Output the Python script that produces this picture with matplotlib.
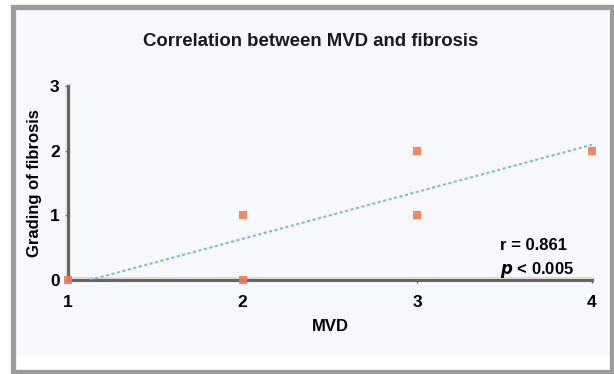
"""Scatter of fibrosis grade against MVD with a least-squares trend line."""

import matplotlib
matplotlib.use("Agg")
import matplotlib.pyplot as plt
import numpy as np
from matplotlib.patches import Rectangle

plt.rcParams["font.family"] = ["Liberation Sans", "DejaVu Sans"]

# data
mvd = [1, 2, 2, 3, 3, 4]
fibrosis = [0, 0, 1, 1, 2, 2]
x_ticks = [1, 2, 3, 4]
y_ticks = [0, 1, 2, 3]

W, H = 614, 374
fig = plt.figure(figsize=(W / 100, H / 100), dpi=100)
fig.patch.set_facecolor("white")

# panel background and grey frame
fig.add_artist(Rectangle((16 / W, 1 - 355 / H), 593 / W, 346 / H,
                         transform=fig.transFigure, facecolor="#f7f8fc",
                         edgecolor="none", zorder=0))
fig.add_artist(Rectangle((13 / W, 1 - 371.5 / H), 599 / W, 365 / H,
                         transform=fig.transFigure, facecolor="none",
                         edgecolor="#9b9b9b", linewidth=3.8, zorder=0.5))

ax = fig.add_axes([68 / W, 1 - 280 / H, 524 / W, 194 / H])
ax.set_zorder(2)
ax.set_facecolor("none")
ax.set_xlim(1, 4)
ax.set_ylim(0, 3)

for side in ("top", "right"):
    ax.spines[side].set_visible(False)
for side in ("left", "bottom"):
    ax.spines[side].set_color("#4f6d78")
    ax.spines[side].set_linewidth(2.2)
    ax.spines[side].set_zorder(3)

# faint orange shadow along the axes
ax.axhline(0.03, color="#f6b79c", lw=2, alpha=0.6, zorder=2, clip_on=False)
ax.axvline(1.0, color="#f6b79c", lw=4, alpha=0.35, zorder=2, clip_on=False)

slope, intercept = np.polyfit(mvd, fibrosis, 1)
x0 = -intercept / slope
xs = np.array([x0, 4.0])
ax.plot(xs, slope * xs + intercept, color="#6aaee0", lw=1.5, ls=(0, (1.5, 1.2)),
        alpha=0.85, zorder=4)

ax.scatter(mvd, fibrosis, marker="s", s=34, color="#f37a55", edgecolors="none",
           zorder=5, clip_on=False, alpha=0.9)

ax.set_xticks(x_ticks)
ax.set_yticks(y_ticks)
ax.tick_params(axis="both", length=2, width=1, color="#4f6d78",
               labelsize=12.5)
ax.tick_params(axis="x", pad=9)
ax.tick_params(axis="y", pad=4)
for lab in ax.get_xticklabels() + ax.get_yticklabels():
    lab.set_fontweight("bold")

ax.set_xlabel("MVD", fontsize=12, fontweight="bold", labelpad=6)
ax.set_ylabel("Grading of fibrosis", fontsize=12, fontweight="bold", labelpad=6)

fig.text(311 / W, 1 - 42 / H, "Correlation between MVD and fibrosis",
         ha="center", va="center", fontsize=13.4, fontweight="bold", color="#1a1a1a")

ax.text(500 / W, 1 - 246 / H, "r = 0.861", transform=fig.transFigure,
        ha="left", va="center", fontsize=12, fontweight="bold")
ax.text(500 / W, 1 - 270 / H, r"$\bfit{p}$ < 0.005", transform=fig.transFigure,
        ha="left", va="center", fontsize=12, fontweight="bold")

fig.savefig("out.png", dpi=100)
